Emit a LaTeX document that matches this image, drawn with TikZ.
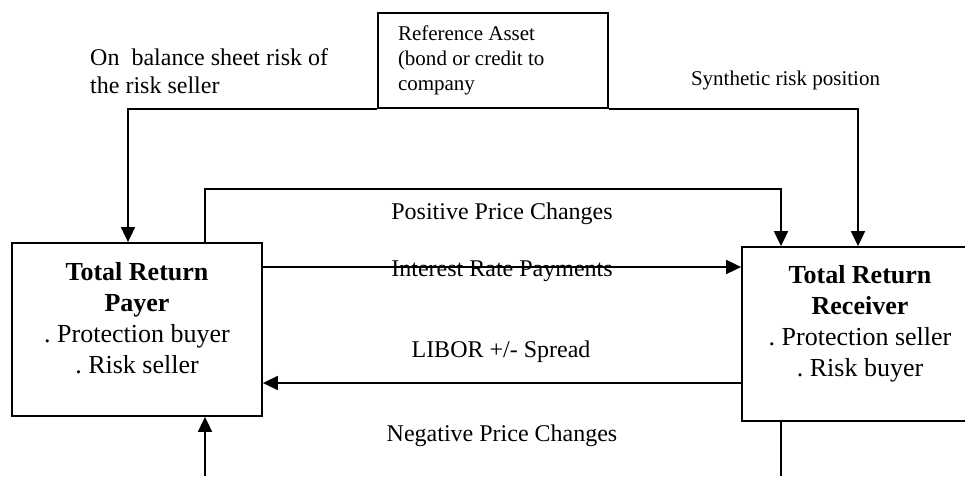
\documentclass[tikz,border=0pt]{standalone}
\usepackage{fontspec}
\setmainfont{Liberation Serif}
\usetikzlibrary{arrows.meta}
\frenchspacing
\begin{document}
\begin{tikzpicture}[x=1pt,y=-1pt,
    party/.style={draw,line width=1.8pt,minimum width=250pt,minimum height=173pt,
      align=center,inner sep=0pt,font=\fontsize{26}{31}\selectfont},
    assetbox/.style={draw,line width=1.8pt,minimum width=230pt,minimum height=95pt,
      text width=190pt,align=flush left,inner sep=0pt},
    assettext/.style={inner sep=0pt,font=\fontsize{21}{25}\selectfont},
    flowlabel/.style={inner sep=0pt,font=\fontsize{24}{28}\selectfont},
    payflow/.style={line width=1.8pt,-{Triangle[width=14pt,length=15pt]}}]
  \useasboundingbox (0,0) rectangle (965,476);
  \draw
    (493,60.5) node[assetbox,assettext] (ref){Reference Asset\\(bond or credit to\\company}
    (137,329.5) node[party] (payer){\textbf{Total Return}\\\textbf{Payer}\\. Protection buyer\\. Risk seller\\[-7pt]\mbox{}}
    (860,334) node[party,minimum width=236pt,minimum height=174pt] (receiver){\textbf{Total Return}\\\textbf{Receiver}\\. Protection seller\\. Risk buyer\\[-5pt]\mbox{}};
  \draw
    (90,71) node[flowlabel,anchor=west,align=flush left] (onbal){On~ balance sheet risk of\\the risk seller}
    (785.5,80) node[assettext] (synth){Synthetic risk position}
    (502,214) node[flowlabel] (pos){Positive Price Changes}
    (502,271) node[flowlabel] (int){Interest Rate Payments}
    (501,352) node[flowlabel] (libor){LIBOR +/- Spread}
    (502,436) node[flowlabel] (neg){Negative Price Changes};
  \coordinate (lx) at (128,108);
  \coordinate (rx) at (858,108);
  \coordinate (px) at (205,189);
  \coordinate (qx) at (781,189);
  \coordinate (iy) at (500,267);
  \coordinate (ly) at (500,383);
  \coordinate (nl) at (205,476);
  \coordinate (nr) at (781,476);
  \begin{scope}[payflow]
    \draw (ref.south west) -| (lx |- payer.north);
    \draw (ref.south east) -| (rx |- receiver.north);
    \draw (px |- payer.north) -- (px) -- (qx) -- (qx |- receiver.north);
    \draw (iy -| payer.east) -- (iy -| receiver.west);
    \draw (ly -| receiver.west) -- (ly -| payer.east);
    \draw (nl) -- (nl |- payer.south);
    \draw[-] (nr |- receiver.south) -- (nr);
  \end{scope}
\end{tikzpicture}
\end{document}
